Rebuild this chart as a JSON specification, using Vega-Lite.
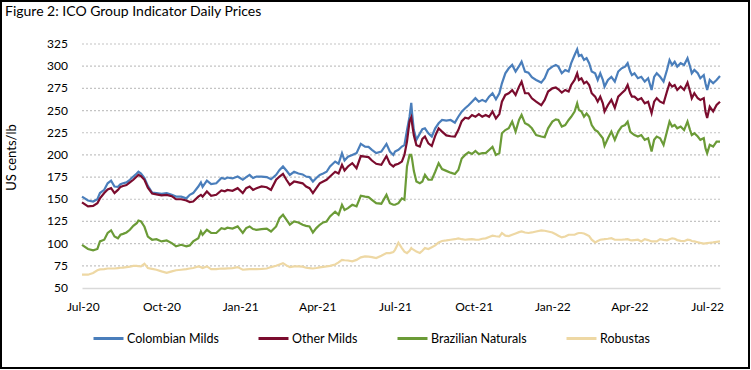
{
  "$schema": "https://vega.github.io/schema/vega-lite/v6.json",
  "width": 748,
  "height": 367,
  "autosize": {"type": "none"},
  "padding": {"left": 1, "top": 1, "right": 2, "bottom": 2},
  "background": "white",
  "config": {
    "font": "Lato",
    "view": {"stroke": "#000000", "strokeWidth": 2},
    "axis": {"labelFont": "Lato", "titleFont": "Lato"},
    "legend": {"labelFont": "Lato"}
  },
  "title": {
    "text": "Figure 2: ICO Group Indicator Daily Prices",
    "anchor": "start",
    "frame": "group",
    "orient": "top",
    "offset": -29,
    "dx": 4,
    "baseline": "alphabetic",
    "fontSize": 14,
    "fontWeight": "normal",
    "color": "#000000"
  },
  "layer": [
    {
      "data": {"values": [{"g": 75}, {"g": 100}, {"g": 125}, {"g": 150}, {"g": 175}, {"g": 200}, {"g": 225}, {"g": 250}, {"g": 275}, {"g": 300}, {"g": 325}]},
      "mark": {"type": "rule", "stroke": "#c4c4c4", "strokeWidth": 1.2, "strokeDash": [2, 2]},
      "encoding": {
        "y": {"field": "g", "type": "quantitative"},
        "x": {"datum": {"year": 2020, "month": 6, "date": 30, "utc": true}, "type": "temporal"},
        "x2": {"datum": {"year": 2022, "month": 7, "date": 16, "utc": true}}
      }
    },
    {
      "data": {"values": [{"t": 50}, {"t": 75}, {"t": 100}, {"t": 125}, {"t": 150}, {"t": 175}, {"t": 200}, {"t": 225}, {"t": 250}, {"t": 275}, {"t": 300}, {"t": 325}]},
      "mark": {"type": "text", "align": "right", "baseline": "middle", "dx": -14, "fontSize": 12, "font": "Lato", "color": "#000000"},
      "encoding": {
        "y": {"field": "t", "type": "quantitative"},
        "x": {"datum": {"year": 2020, "month": 6, "date": 30, "utc": true}, "type": "temporal"},
        "text": {"field": "t", "type": "quantitative", "format": "d"}
      }
    },
    {
      "data": {"values": [
        {"d": "2020-06-30", "cm": 153, "om": 146.5, "bn": 98.7, "rb": 65},
        {"d": "2020-07-07", "cm": 148.6, "om": 142, "bn": 94, "rb": 65},
        {"d": "2020-07-13", "cm": 147.5, "om": 142.6, "bn": 92.4, "rb": 67},
        {"d": "2020-07-18", "cm": 150, "om": 145.6, "bn": 94, "rb": 70},
        {"d": "2020-07-21", "cm": 157, "om": 151, "bn": 102.5, "rb": 71},
        {"d": "2020-07-26", "cm": 160.6, "om": 157, "bn": 104.4, "rb": 71.3},
        {"d": "2020-07-30", "cm": 168, "om": 161, "bn": 112, "rb": 72},
        {"d": "2020-08-03", "cm": 171, "om": 162.5, "bn": 115, "rb": 72},
        {"d": "2020-08-07", "cm": 164.4, "om": 157, "bn": 108, "rb": 72},
        {"d": "2020-08-11", "cm": 164, "om": 160.6, "bn": 106, "rb": 72.5},
        {"d": "2020-08-14", "cm": 167, "om": 164, "bn": 110, "rb": 72.8},
        {"d": "2020-08-17", "cm": 168, "om": 165, "bn": 111, "rb": 73},
        {"d": "2020-08-21", "cm": 169, "om": 166, "bn": 112.6, "rb": 73.6},
        {"d": "2020-08-25", "cm": 172, "om": 169, "bn": 115.6, "rb": 74},
        {"d": "2020-08-29", "cm": 175.6, "om": 172, "bn": 120, "rb": 75},
        {"d": "2020-09-02", "cm": 179, "om": 175.6, "bn": 123, "rb": 75},
        {"d": "2020-09-04", "cm": 181, "om": 177.5, "bn": 126, "rb": 74.5},
        {"d": "2020-09-07", "cm": 179, "om": 176, "bn": 125, "rb": 74.3},
        {"d": "2020-09-11", "cm": 174, "om": 172, "bn": 119, "rb": 77.4},
        {"d": "2020-09-15", "cm": 165, "om": 163, "bn": 108, "rb": 72.5},
        {"d": "2020-09-20", "cm": 157.6, "om": 156.5, "bn": 104.4, "rb": 71.5},
        {"d": "2020-09-25", "cm": 157, "om": 155.5, "bn": 105, "rb": 70.6},
        {"d": "2020-10-01", "cm": 156, "om": 154.5, "bn": 102.5, "rb": 68.7},
        {"d": "2020-10-07", "cm": 157, "om": 155, "bn": 103.6, "rb": 67},
        {"d": "2020-10-13", "cm": 155, "om": 153.5, "bn": 100.6, "rb": 68.7},
        {"d": "2020-10-18", "cm": 153, "om": 150, "bn": 97, "rb": 70},
        {"d": "2020-10-24", "cm": 153, "om": 150, "bn": 98.7, "rb": 70.6},
        {"d": "2020-10-30", "cm": 151, "om": 148.6, "bn": 97, "rb": 71.3},
        {"d": "2020-11-03", "cm": 155, "om": 146.8, "bn": 98, "rb": 72},
        {"d": "2020-11-07", "cm": 157, "om": 147.5, "bn": 102.5, "rb": 72.5},
        {"d": "2020-11-13", "cm": 164.4, "om": 153, "bn": 106, "rb": 74.3},
        {"d": "2020-11-16", "cm": 169, "om": 155, "bn": 113.7, "rb": 73.5},
        {"d": "2020-11-18", "cm": 164, "om": 153, "bn": 110, "rb": 72.5},
        {"d": "2020-11-23", "cm": 171, "om": 158.8, "bn": 115.6, "rb": 74.3},
        {"d": "2020-11-28", "cm": 167, "om": 154, "bn": 112, "rb": 71.3},
        {"d": "2020-12-04", "cm": 168, "om": 155, "bn": 112, "rb": 71.3},
        {"d": "2020-12-10", "cm": 174, "om": 160, "bn": 117.5, "rb": 72},
        {"d": "2020-12-14", "cm": 173, "om": 159, "bn": 116.5, "rb": 71.8},
        {"d": "2020-12-17", "cm": 174.5, "om": 160.5, "bn": 118, "rb": 72.2},
        {"d": "2020-12-23", "cm": 173.5, "om": 159.5, "bn": 117, "rb": 72.5},
        {"d": "2020-12-29", "cm": 175.6, "om": 162.5, "bn": 119.4, "rb": 73.6},
        {"d": "2021-01-04", "cm": 172, "om": 157, "bn": 112, "rb": 70.6},
        {"d": "2021-01-08", "cm": 175, "om": 162.5, "bn": 117.5, "rb": 71},
        {"d": "2021-01-12", "cm": 177.5, "om": 164.4, "bn": 119.4, "rb": 71.3},
        {"d": "2021-01-16", "cm": 174, "om": 160.6, "bn": 116.4, "rb": 71.3},
        {"d": "2021-01-20", "cm": 175.6, "om": 162.5, "bn": 115.6, "rb": 71.3},
        {"d": "2021-01-26", "cm": 175.6, "om": 164.4, "bn": 116.4, "rb": 71.5},
        {"d": "2021-02-01", "cm": 175, "om": 163.6, "bn": 117, "rb": 72},
        {"d": "2021-02-06", "cm": 172.6, "om": 160.6, "bn": 113.7, "rb": 73.6},
        {"d": "2021-02-12", "cm": 177.5, "om": 172, "bn": 119.4, "rb": 75},
        {"d": "2021-02-16", "cm": 183, "om": 175.6, "bn": 128.7, "rb": 76.5},
        {"d": "2021-02-20", "cm": 187, "om": 178.7, "bn": 132.5, "rb": 78},
        {"d": "2021-02-24", "cm": 182.4, "om": 172, "bn": 127, "rb": 75.5},
        {"d": "2021-02-28", "cm": 177.5, "om": 166.3, "bn": 121.3, "rb": 73.6},
        {"d": "2021-03-05", "cm": 181, "om": 170, "bn": 125, "rb": 74.3},
        {"d": "2021-03-10", "cm": 179, "om": 169, "bn": 123.9, "rb": 74.3},
        {"d": "2021-03-15", "cm": 178, "om": 168, "bn": 121.3, "rb": 74},
        {"d": "2021-03-19", "cm": 175.6, "om": 164.4, "bn": 120, "rb": 72.8},
        {"d": "2021-03-23", "cm": 175, "om": 162.5, "bn": 119.4, "rb": 72.5},
        {"d": "2021-03-27", "cm": 170, "om": 157, "bn": 112.6, "rb": 72},
        {"d": "2021-03-31", "cm": 174, "om": 162.5, "bn": 117.5, "rb": 72.5},
        {"d": "2021-04-04", "cm": 177.5, "om": 168, "bn": 121.3, "rb": 73.2},
        {"d": "2021-04-08", "cm": 179, "om": 170, "bn": 123.9, "rb": 73.8},
        {"d": "2021-04-12", "cm": 181, "om": 172, "bn": 125, "rb": 74.3},
        {"d": "2021-04-16", "cm": 187, "om": 175.6, "bn": 130.6, "rb": 75},
        {"d": "2021-04-22", "cm": 192.5, "om": 181, "bn": 136, "rb": 76.5},
        {"d": "2021-04-26", "cm": 190, "om": 179, "bn": 132.5, "rb": 78.8},
        {"d": "2021-04-30", "cm": 202, "om": 188.8, "bn": 143.8, "rb": 81.7},
        {"d": "2021-05-03", "cm": 193.7, "om": 182.4, "bn": 138, "rb": 81.3},
        {"d": "2021-05-07", "cm": 198, "om": 187, "bn": 140, "rb": 81},
        {"d": "2021-05-12", "cm": 200, "om": 190.7, "bn": 143.8, "rb": 80},
        {"d": "2021-05-17", "cm": 202, "om": 185, "bn": 142, "rb": 81.7},
        {"d": "2021-05-22", "cm": 212.4, "om": 198.7, "bn": 154, "rb": 84.5},
        {"d": "2021-05-27", "cm": 209.4, "om": 198, "bn": 153, "rb": 85.6},
        {"d": "2021-05-31", "cm": 209, "om": 197.5, "bn": 152.5, "rb": 85.4},
        {"d": "2021-06-04", "cm": 205.7, "om": 193.7, "bn": 149.4, "rb": 84.8},
        {"d": "2021-06-09", "cm": 202, "om": 190, "bn": 145.6, "rb": 83.7},
        {"d": "2021-06-15", "cm": 203.8, "om": 188.8, "bn": 145, "rb": 86.3},
        {"d": "2021-06-21", "cm": 212.4, "om": 198.7, "bn": 155, "rb": 89.3},
        {"d": "2021-06-25", "cm": 203.8, "om": 190, "bn": 145.6, "rb": 89.3},
        {"d": "2021-06-29", "cm": 200, "om": 187, "bn": 143.8, "rb": 90.5},
        {"d": "2021-07-01", "cm": 203.8, "om": 188.8, "bn": 143.8, "rb": 93},
        {"d": "2021-07-05", "cm": 205.7, "om": 190, "bn": 145.6, "rb": 101},
        {"d": "2021-07-09", "cm": 209.4, "om": 192.5, "bn": 151, "rb": 95},
        {"d": "2021-07-12", "cm": 211, "om": 200, "bn": 149.4, "rb": 91},
        {"d": "2021-07-15", "cm": 228, "om": 215, "bn": 187, "rb": 89.3},
        {"d": "2021-07-18", "cm": 243, "om": 238, "bn": 200, "rb": 92},
        {"d": "2021-07-20", "cm": 258.6, "om": 242.4, "bn": 200, "rb": 95},
        {"d": "2021-07-21", "cm": 246.6, "om": 235, "bn": 195, "rb": 94},
        {"d": "2021-07-23", "cm": 228, "om": 222, "bn": 182, "rb": 93},
        {"d": "2021-07-26", "cm": 217, "om": 211, "bn": 170, "rb": 91},
        {"d": "2021-07-30", "cm": 224, "om": 209.4, "bn": 168, "rb": 89.5},
        {"d": "2021-08-02", "cm": 229, "om": 218, "bn": 170, "rb": 92},
        {"d": "2021-08-05", "cm": 230, "om": 220.7, "bn": 177.5, "rb": 95},
        {"d": "2021-08-09", "cm": 224.4, "om": 213, "bn": 172, "rb": 94},
        {"d": "2021-08-13", "cm": 220.7, "om": 210, "bn": 172, "rb": 96},
        {"d": "2021-08-17", "cm": 230, "om": 221.4, "bn": 181, "rb": 98},
        {"d": "2021-08-21", "cm": 235.6, "om": 230, "bn": 190.7, "rb": 101.4},
        {"d": "2021-08-25", "cm": 239.4, "om": 226.3, "bn": 184, "rb": 103},
        {"d": "2021-08-30", "cm": 238.7, "om": 222, "bn": 182, "rb": 103.6},
        {"d": "2021-09-04", "cm": 239.4, "om": 221, "bn": 180, "rb": 104.4},
        {"d": "2021-09-09", "cm": 236.4, "om": 220.7, "bn": 178.5, "rb": 105},
        {"d": "2021-09-13", "cm": 243, "om": 228, "bn": 183, "rb": 106},
        {"d": "2021-09-17", "cm": 248.8, "om": 238, "bn": 196, "rb": 105},
        {"d": "2021-09-21", "cm": 252.6, "om": 242, "bn": 200, "rb": 104.4},
        {"d": "2021-09-25", "cm": 256, "om": 241, "bn": 203, "rb": 104.7},
        {"d": "2021-09-29", "cm": 260, "om": 245, "bn": 201, "rb": 105},
        {"d": "2021-10-03", "cm": 264, "om": 243, "bn": 204.5, "rb": 104.6},
        {"d": "2021-10-07", "cm": 260, "om": 246, "bn": 201, "rb": 104.4},
        {"d": "2021-10-11", "cm": 262, "om": 243, "bn": 202, "rb": 105.5},
        {"d": "2021-10-15", "cm": 260, "om": 245, "bn": 202, "rb": 106},
        {"d": "2021-10-19", "cm": 265.7, "om": 243, "bn": 205.5, "rb": 107.5},
        {"d": "2021-10-23", "cm": 269.5, "om": 249, "bn": 209, "rb": 108.9},
        {"d": "2021-10-27", "cm": 262.7, "om": 241, "bn": 200, "rb": 108.3},
        {"d": "2021-10-31", "cm": 269.5, "om": 246, "bn": 202, "rb": 108},
        {"d": "2021-11-03", "cm": 280.7, "om": 260, "bn": 224.4, "rb": 112},
        {"d": "2021-11-07", "cm": 292, "om": 267.6, "bn": 228, "rb": 109},
        {"d": "2021-11-11", "cm": 297.6, "om": 269.5, "bn": 230, "rb": 108.5},
        {"d": "2021-11-15", "cm": 301.4, "om": 273, "bn": 237.5, "rb": 110},
        {"d": "2021-11-19", "cm": 294, "om": 267.6, "bn": 226.3, "rb": 111.5},
        {"d": "2021-11-23", "cm": 300, "om": 277, "bn": 239.4, "rb": 113},
        {"d": "2021-11-26", "cm": 305, "om": 282.6, "bn": 245, "rb": 113.7},
        {"d": "2021-11-30", "cm": 294, "om": 269.5, "bn": 235.6, "rb": 112.5},
        {"d": "2021-12-04", "cm": 292.7, "om": 269.5, "bn": 233.7, "rb": 112},
        {"d": "2021-12-08", "cm": 287.5, "om": 263.8, "bn": 230, "rb": 112.6},
        {"d": "2021-12-13", "cm": 284.5, "om": 260, "bn": 222.4, "rb": 113.7},
        {"d": "2021-12-19", "cm": 281.5, "om": 256, "bn": 220.7, "rb": 115},
        {"d": "2021-12-23", "cm": 286.4, "om": 262, "bn": 220, "rb": 114.5},
        {"d": "2021-12-27", "cm": 295.7, "om": 271.4, "bn": 230, "rb": 113.7},
        {"d": "2022-01-01", "cm": 299.5, "om": 275, "bn": 237.5, "rb": 112.6},
        {"d": "2022-01-05", "cm": 301.4, "om": 276, "bn": 240, "rb": 110.5},
        {"d": "2022-01-08", "cm": 299.5, "om": 274, "bn": 239.4, "rb": 109},
        {"d": "2022-01-12", "cm": 292, "om": 270.3, "bn": 232, "rb": 107},
        {"d": "2022-01-16", "cm": 295.7, "om": 273.2, "bn": 233.7, "rb": 108},
        {"d": "2022-01-20", "cm": 294, "om": 271.4, "bn": 239.4, "rb": 110},
        {"d": "2022-01-23", "cm": 303.4, "om": 278.8, "bn": 243, "rb": 110},
        {"d": "2022-01-27", "cm": 312.6, "om": 284.5, "bn": 248.8, "rb": 110},
        {"d": "2022-01-30", "cm": 319, "om": 292, "bn": 258.2, "rb": 111.5},
        {"d": "2022-02-01", "cm": 311.5, "om": 284.5, "bn": 250.7, "rb": 112},
        {"d": "2022-02-04", "cm": 312.6, "om": 286.4, "bn": 248.8, "rb": 112},
        {"d": "2022-02-07", "cm": 307, "om": 280.7, "bn": 243, "rb": 111.5},
        {"d": "2022-02-10", "cm": 309, "om": 282.6, "bn": 246.6, "rb": 110},
        {"d": "2022-02-13", "cm": 303.4, "om": 278.8, "bn": 243, "rb": 108.5},
        {"d": "2022-02-16", "cm": 294, "om": 269.5, "bn": 233.7, "rb": 104.4},
        {"d": "2022-02-20", "cm": 292, "om": 265.7, "bn": 228, "rb": 101.4},
        {"d": "2022-02-23", "cm": 284.5, "om": 260, "bn": 226.3, "rb": 103},
        {"d": "2022-02-26", "cm": 292, "om": 265.7, "bn": 222.4, "rb": 104.4},
        {"d": "2022-03-01", "cm": 284.5, "om": 258.2, "bn": 218.8, "rb": 104.7},
        {"d": "2022-03-03", "cm": 277, "om": 249, "bn": 210.2, "rb": 105},
        {"d": "2022-03-07", "cm": 284.5, "om": 256.3, "bn": 218.8, "rb": 105.5},
        {"d": "2022-03-11", "cm": 288, "om": 262, "bn": 226.3, "rb": 106.2},
        {"d": "2022-03-15", "cm": 282.6, "om": 253, "bn": 217, "rb": 104.4},
        {"d": "2022-03-19", "cm": 294, "om": 265.7, "bn": 226.3, "rb": 104.4},
        {"d": "2022-03-23", "cm": 297.6, "om": 269.5, "bn": 232, "rb": 104.4},
        {"d": "2022-03-27", "cm": 299.5, "om": 273.2, "bn": 233.7, "rb": 104.7},
        {"d": "2022-03-30", "cm": 303.4, "om": 278.8, "bn": 237.5, "rb": 105},
        {"d": "2022-04-02", "cm": 294, "om": 269.5, "bn": 226.3, "rb": 104},
        {"d": "2022-04-04", "cm": 290, "om": 265.7, "bn": 224.4, "rb": 103.6},
        {"d": "2022-04-07", "cm": 292, "om": 265.7, "bn": 222.4, "rb": 104},
        {"d": "2022-04-11", "cm": 286.4, "om": 262, "bn": 220.7, "rb": 104.4},
        {"d": "2022-04-15", "cm": 288, "om": 264, "bn": 222.4, "rb": 102.5},
        {"d": "2022-04-19", "cm": 282.6, "om": 258.2, "bn": 217, "rb": 105},
        {"d": "2022-04-23", "cm": 286.4, "om": 260, "bn": 218.8, "rb": 104},
        {"d": "2022-04-27", "cm": 273.2, "om": 247, "bn": 203.8, "rb": 102.5},
        {"d": "2022-04-30", "cm": 288, "om": 260, "bn": 217, "rb": 102.5},
        {"d": "2022-05-03", "cm": 292, "om": 264, "bn": 220.7, "rb": 102.5},
        {"d": "2022-05-07", "cm": 288, "om": 260, "bn": 218.8, "rb": 105},
        {"d": "2022-05-11", "cm": 282.6, "om": 258.2, "bn": 211.3, "rb": 104.2},
        {"d": "2022-05-15", "cm": 295.7, "om": 271.4, "bn": 226.3, "rb": 103.8},
        {"d": "2022-05-18", "cm": 307, "om": 280.7, "bn": 237.5, "rb": 105},
        {"d": "2022-05-21", "cm": 301.4, "om": 277, "bn": 232, "rb": 106},
        {"d": "2022-05-24", "cm": 305, "om": 278.8, "bn": 233.7, "rb": 105.5},
        {"d": "2022-05-27", "cm": 299.5, "om": 273.2, "bn": 230, "rb": 104},
        {"d": "2022-05-31", "cm": 303.4, "om": 277, "bn": 232, "rb": 103.2},
        {"d": "2022-06-04", "cm": 301.4, "om": 273.2, "bn": 228, "rb": 102.8},
        {"d": "2022-06-08", "cm": 309, "om": 281.5, "bn": 237.5, "rb": 104.5},
        {"d": "2022-06-11", "cm": 299.5, "om": 271.4, "bn": 228, "rb": 104},
        {"d": "2022-06-13", "cm": 292, "om": 263.8, "bn": 222.4, "rb": 103},
        {"d": "2022-06-16", "cm": 295.7, "om": 269.5, "bn": 224.4, "rb": 102.5},
        {"d": "2022-06-20", "cm": 292, "om": 263.8, "bn": 220.7, "rb": 101.5},
        {"d": "2022-06-23", "cm": 286.4, "om": 262, "bn": 217, "rb": 100.8},
        {"d": "2022-06-27", "cm": 290, "om": 264, "bn": 218.8, "rb": 100},
        {"d": "2022-06-29", "cm": 280.7, "om": 249, "bn": 207.6, "rb": 100.3},
        {"d": "2022-07-01", "cm": 273.2, "om": 241.5, "bn": 202, "rb": 100.6},
        {"d": "2022-07-04", "cm": 284.5, "om": 254.5, "bn": 211.3, "rb": 101},
        {"d": "2022-07-08", "cm": 280.7, "om": 249, "bn": 209.4, "rb": 101.4},
        {"d": "2022-07-12", "cm": 284.5, "om": 256.3, "bn": 215, "rb": 102},
        {"d": "2022-07-16", "cm": 289, "om": 260, "bn": 215, "rb": 102.5}
      ]},
      "transform": [{"fold": ["cm", "om", "bn", "rb"], "as": ["series", "price"]}],
      "mark": {"type": "line", "strokeWidth": 2.2, "interpolate": "linear"},
      "encoding": {
        "x": {
          "field": "d",
          "type": "temporal",
          "scale": {
            "type": "utc",
            "domain": [{"year": 2020, "month": 6, "date": 30, "utc": true}, {"year": 2022, "month": 7, "date": 16, "utc": true}],
            "range": [81, 719]
          },
          "axis": {
            "title": null,
            "format": "%b-%y",
            "values": [
              {"year": 2020, "month": 7, "date": 1, "utc": true},
              {"year": 2020, "month": 10, "date": 1, "utc": true},
              {"year": 2021, "month": 1, "date": 1, "utc": true},
              {"year": 2021, "month": 4, "date": 1, "utc": true},
              {"year": 2021, "month": 7, "date": 1, "utc": true},
              {"year": 2021, "month": 10, "date": 1, "utc": true},
              {"year": 2022, "month": 1, "date": 1, "utc": true},
              {"year": 2022, "month": 4, "date": 1, "utc": true},
              {"year": 2022, "month": 7, "date": 1, "utc": true}
            ],
            "offset": -80,
            "grid": false,
            "ticks": false,
            "domain": true,
            "domainColor": "#d9d9d9",
            "domainWidth": 1.5,
            "labelPadding": 13,
            "labelFontSize": 12,
            "labelColor": "#000000",
            "labelFlush": false,
            "labelOverlap": false
          }
        },
        "y": {
          "field": "price",
          "type": "quantitative",
          "scale": {"domain": [49, 326], "range": [287.887, 42.113], "nice": false, "zero": false},
          "axis": {
            "title": "US cents/lb",
            "labels": false,
            "offset": -81,
            "grid": false,
            "domain": false,
            "ticks": false,
            "titleFontSize": 13,
            "titleFontWeight": "normal",
            "titleColor": "#000000",
            "titleAngle": -90,
            "titleX": -67,
            "titleY": 156,
            "titleAlign": "center",
            "titleBaseline": "alphabetic"
          }
        },
        "color": {
          "field": "series",
          "type": "nominal",
          "scale": {"domain": ["cm", "om", "bn", "rb"], "range": ["#4a7ebb", "#7b0c2e", "#6b9b37", "#eed8a4"]},
          "legend": {
            "title": null,
            "orient": "none",
            "legendX": 91,
            "legendY": 321,
            "direction": "horizontal",
            "symbolType": "stroke",
            "symbolSize": 900,
            "symbolStrokeWidth": 3,
            "labelFontSize": 12.5,
            "labelColor": "#000000",
            "labelOffset": 2,
            "columnPadding": 33,
            "labelExpr": "datum.label == 'cm' ? 'Colombian Milds' : datum.label == 'om' ? 'Other Milds' : datum.label == 'bn' ? 'Brazilian Naturals' : 'Robustas'"
          }
        }
      }
    }
  ]
}
